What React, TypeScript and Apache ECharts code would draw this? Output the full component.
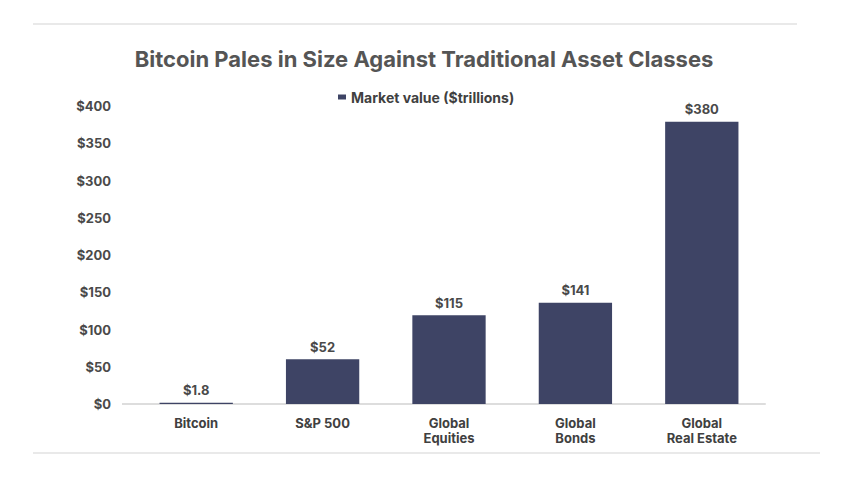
import React, { useEffect, useRef } from "react";
import * as echarts from "echarts";

const categories = ["Bitcoin", "S&P 500", "Global\nEquities", "Global\nBonds", "Global\nReal Estate"];
const barValues = [1.8, 60, 119, 136, 379];
const valueLabels = ["$1.8", "$52", "$115", "$141", "$380"];
const seriesName = "Market value ($trillions)";
const titleText = "Bitcoin Pales in Size Against Traditional Asset Classes";

export default function App() {
  const ref = useRef<HTMLDivElement>(null);
  useEffect(() => {
    const chart = echarts.init(ref.current!, null, { renderer: "svg" });
    const font = "Inter, 'Noto Sans', sans-serif";
    chart.setOption({
      animation: false,
      backgroundColor: "#ffffff",
      textStyle: { fontFamily: font },
      title: {
        text: titleText,
        left: "center",
        top: 43,
        textStyle: { fontFamily: font, fontSize: 22, fontWeight: 700, color: "#555555" },
      },
      legend: {
        data: [seriesName],
        top: 85,
        left: 333,
        icon: "rect",
        itemWidth: 8,
        itemHeight: 5,
        itemGap: 8,
        textStyle: { fontFamily: font, fontSize: 14, fontWeight: 700, color: "#404040" },
      },
      grid: { left: 133, right: 83, top: 106, bottom: 73, containLabel: false },
      xAxis: {
        type: "category",
        data: categories,
        axisLine: { lineStyle: { color: "#dddddd", width: 2 } },
        axisTick: { show: false },
        axisLabel: {
          fontFamily: font,
          fontSize: 13,
          fontWeight: 700,
          color: "#404040",
          margin: 11,
          lineHeight: 15,
          interval: 0,
        },
      },
      yAxis: {
        type: "value",
        min: 0,
        max: 400,
        interval: 50,
        splitLine: { show: false },
        axisLine: { show: false },
        axisTick: { show: false },
        axisLabel: {
          fontFamily: font,
          fontSize: 13,
          fontWeight: 700,
          color: "#4a4a4a",
          margin: 22,
          formatter: (v: number) => "$" + v,
        },
      },
      series: [
        {
          name: seriesName,
          type: "bar",
          data: barValues,
          barWidth: "58%",
          itemStyle: { color: "#3e4465" },
          label: {
            show: true,
            position: "top",
            distance: 6,
            fontFamily: font,
            fontSize: 13,
            fontWeight: 700,
            color: "#4a4a4a",
            formatter: (p: any) => valueLabels[p.dataIndex],
          },
        },
      ],
      graphic: [
        { type: "line", shape: { x1: 33, y1: 24, x2: 797, y2: 24 }, style: { stroke: "#e2e2e2", lineWidth: 1.5 } },
        { type: "line", shape: { x1: 33, y1: 453, x2: 820, y2: 453 }, style: { stroke: "#e2e2e2", lineWidth: 1.5 } },
        { type: "line", shape: { x1: 122, y1: 404, x2: 133, y2: 404 }, style: { stroke: "#dddddd", lineWidth: 2 } },
      ],
    });
    return () => chart.dispose();
  }, []);
  return <div ref={ref} style={{ width: 848, height: 477, position: "absolute", left: 0, top: 0 }} />;
}
